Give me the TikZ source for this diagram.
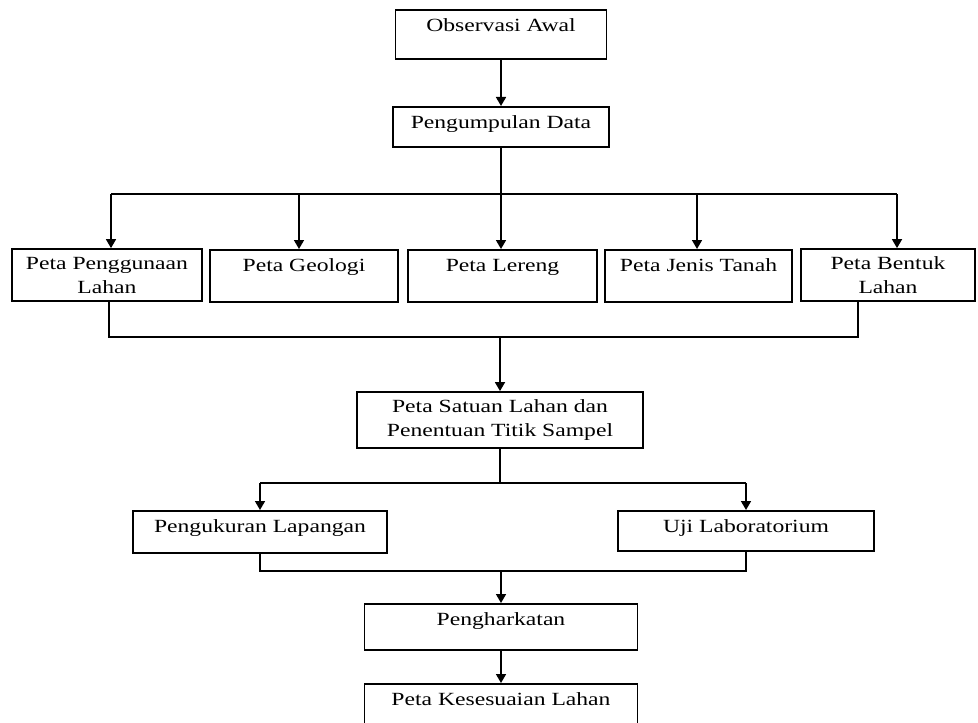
\documentclass[tikz,border=0pt]{standalone}
\usepackage{fontspec}
\setmainfont{Liberation Serif}[FakeStretch=1.27]
\usepackage{tikz}
\usetikzlibrary{positioning,arrows.meta}

\begin{document}
\begin{tikzpicture} [
x=0.5pt, y=-0.5pt,
>={Triangle[width=5pt,length=4.5pt]},
line width=0.8pt,
box/.style={rectangle, draw=black, line width=0.9pt, inner xsep=0pt, inner ysep=4.5pt,
            font=\fontsize{9.3}{12}\selectfont, text height=6.4pt},
twoline/.style={rectangle, draw=black, line width=0.9pt, inner sep=0pt, align=center,
            font=\fontsize{9.3}{12}\selectfont},
]
\clip (0,0) rectangle (978,722);

%Nodes
\node[box, anchor=north, minimum width=105.5pt, text depth=9.1pt]  (obs)   at (501,9)    {Observasi Awal};
\node[box, anchor=north, minimum width=108pt, text depth=4.6pt]    (data)  at (501,106)  {Pengumpulan Data};
\node[twoline, minimum width=95pt, minimum height=26pt]            (guna)  at (107,275)  {Peta Penggunaan\\Lahan};
\node[box, anchor=north, minimum width=94pt, text depth=10.6pt]    (geo)   at (304,249)  {Peta Geologi};
\node[box, anchor=north, minimum width=94.5pt, text depth=10.6pt]  (lereng) at (502.5,249) {Peta Lereng};
\node[box, anchor=north, minimum width=93.5pt, text depth=10.6pt]  (tanah) at (698.5,249) {Peta Jenis Tanah};
\node[twoline, minimum width=87pt, minimum height=26pt]            (bentuk) at (888,275) {Peta Bentuk\\Lahan};
\node[twoline, minimum width=143pt, minimum height=28pt]           (satuan) at (500,420) {Peta Satuan Lahan dan\\Penentuan Titik Sampel};
\node[box, anchor=north, minimum width=127pt, text depth=5.6pt]    (ukur)  at (260,510)  {Pengukuran Lapangan};
\node[box, anchor=north, minimum width=128pt, text depth=4.6pt]    (lab)   at (746,510)  {Uji Laboratorium};
\node[box, anchor=north, minimum width=136.5pt, text depth=7.6pt]  (harkat) at (501,603) {Pengharkatan};
\node[box, anchor=north, minimum width=136.5pt, text depth=7.6pt]  (sesuai) at (501,683) {Peta Kesesuaian Lahan};

%Coordinates
\coordinate (split)  at (501,194);
\coordinate (to1)    at (111,194);
\coordinate (to2)    at (299,194);
\coordinate (to3)    at (501,194);
\coordinate (to4)    at (697,194);
\coordinate (to5)    at (897,194);
\coordinate (join1)  at (109,337);
\coordinate (join3)  at (500,337);
\coordinate (join5)  at (858,337);
\coordinate (fork)   at (500,483);
\coordinate (fork1)  at (260,483);
\coordinate (fork2)  at (746,483);
\coordinate (merge)  at (501,571);

%Lines
\draw[->] (obs.south) -- (data.north);
\draw (data.south) -- (split);
\draw (to1) -- (to5);
\foreach \from/\to in {to1/guna, to2/geo, to3/lereng, to4/tanah, to5/bentuk}
  \draw[->] (\from) -- (\from |- \to.north);
\draw (join1 |- guna.south) -- (join1) -- (join5) -- (join5 |- bentuk.south);
\draw[->] (join3) -- (satuan.north);
\draw (satuan.south) -- (fork);
\draw (fork1) -- (fork2);
\draw[->] (fork1) -- (ukur.north);
\draw[->] (fork2) -- (lab.north);
\draw (ukur.south) |- (merge) -| (lab.south);
\draw[->] (merge) -- (harkat.north);
\draw[->] (harkat.south) -- (sesuai.north);

\end{tikzpicture}
\end{document}
